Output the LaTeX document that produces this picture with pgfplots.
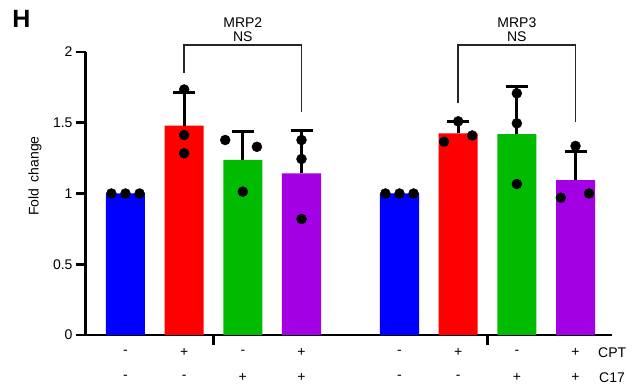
\documentclass[border=0pt]{standalone}
\usepackage{pgfplots}
\pgfplotsset{compat=1.18}
\usepackage{fontspec}
\setmainfont{Liberation Sans}
\definecolor{cblue}{RGB}{0,0,255}
\definecolor{cred}{RGB}{255,0,0}
\definecolor{cgreen}{RGB}{0,187,0}
\definecolor{cpurple}{RGB}{163,0,227}
\newcommand{\fs}{\fontsize{14}{16}\selectfont}
\begin{document}
\begin{tikzpicture}
\path[use as bounding box] (-86pt,-55pt) rectangle (554pt,335pt);
\begin{axis}[
  scale only axis, width=526pt, height=283pt,
  xmin=-0.673, xmax=8.292, ymin=0, ymax=2,
  axis lines=left,
  x axis line style={-, line width=2.2pt},
  y axis line style={-, line width=3pt},
  ytick={0,0.5,1,1.5,2}, yticklabels={0,0.5,1,1.5,2},
  xtick={1.5,6.17}, xticklabels={},
  tick align=outside, major tick length=10pt,
  ytick style={line width=2.8pt, black},
  xtick style={line width=2.8pt, black},
  tick label style={font=\fs},
  /pgf/number format/assume math mode=true,
  clip=false,
  every error bar/.append style={line width=3pt, draw=black},
  ebars/.style={error bars/.cd, y dir=plus, y explicit,
    error bar style={line width=3pt, draw=black},
    error mark options={rotate=90, line width=3pt, mark size=11pt, black}},
]
% bars (with upper error bars)
\addplot[ybar, bar width=0.665, bar shift=0, fill=cblue, draw=none] coordinates {(0,1) (4.67,1)};
\addplot[ybar, bar width=0.665, bar shift=0, fill=cred, draw=none, ebars] coordinates {(1,1.48) +- (0,0.237) (5.67,1.425) +- (0,0.082)};
\addplot[ybar, bar width=0.665, bar shift=0, fill=cgreen, draw=none, ebars] coordinates {(2,1.237) +- (0,0.200) (6.67,1.42) +- (0,0.335)};
\addplot[ybar, bar width=0.665, bar shift=0, fill=cpurple, draw=none, ebars] coordinates {(3,1.143) +- (0,0.301) (7.67,1.095) +- (0,0.205)};
% individual points
\addplot[only marks, mark=*, mark size=5pt, black] coordinates {
  (-0.24,1) (0,1) (0.24,1)
  (1,1.735) (1,1.413) (1,1.284)
  (1.70,1.378) (2.24,1.33) (2,1.013)
  (3,1.378) (3,1.244) (3,0.82)
  (4.43,1) (4.67,1) (4.91,1)
  (5.67,1.51) (5.43,1.366) (5.91,1.41)
  (6.67,1.708) (6.67,1.496) (6.67,1.067)
  (7.67,1.336) (7.42,0.97) (7.90,1.0)
};
% significance brackets
\addplot[black!85, line width=1.5pt, mark=none] coordinates {(1,1.85) (1,2.05) (3,2.05) (3,1.578)};
\addplot[black!85, line width=1.5pt, mark=none] coordinates {(5.67,1.637) (5.67,2.05) (7.67,2.05) (7.67,1.507)};
\node[font=\fs] at (axis cs:2,2.106) {NS};
\node[font=\fs] at (axis cs:2,2.205) {MRP2};
\node[font=\fs] at (axis cs:6.67,2.106) {NS};
\node[font=\fs] at (axis cs:6.67,2.205) {MRP3};
% treatment rows
\node[font=\fs] at (axis cs:0,-0.122) {-};
\node[font=\fs] at (axis cs:1,-0.122) {+};
\node[font=\fs] at (axis cs:2,-0.122) {-};
\node[font=\fs] at (axis cs:3,-0.122) {+};
\node[font=\fs] at (axis cs:4.67,-0.122) {-};
\node[font=\fs] at (axis cs:5.67,-0.122) {+};
\node[font=\fs] at (axis cs:6.67,-0.122) {-};
\node[font=\fs] at (axis cs:7.67,-0.122) {+};
\node[font=\fs] at (axis cs:0,-0.299) {-};
\node[font=\fs] at (axis cs:1,-0.299) {-};
\node[font=\fs] at (axis cs:2,-0.299) {+};
\node[font=\fs] at (axis cs:3,-0.299) {+};
\node[font=\fs] at (axis cs:4.67,-0.299) {-};
\node[font=\fs] at (axis cs:5.67,-0.299) {-};
\node[font=\fs] at (axis cs:6.67,-0.299) {+};
\node[font=\fs] at (axis cs:7.67,-0.299) {+};
\node[font=\fs, anchor=west, inner sep=0pt] at (axis cs:8.054,-0.122) {CPT};
\node[font=\fs, anchor=west, inner sep=0pt] at (axis cs:8.07,-0.299) {C17};
% labels
\node[font=\fs, rotate=90] at (axis cs:-1.54,1.124) {Fold\hspace{0.45em}change};
\node[font=\bfseries\fontsize{25}{28}\selectfont] at (axis cs:-1.773,2.233) {H};
\end{axis}
\end{tikzpicture}
\end{document}
